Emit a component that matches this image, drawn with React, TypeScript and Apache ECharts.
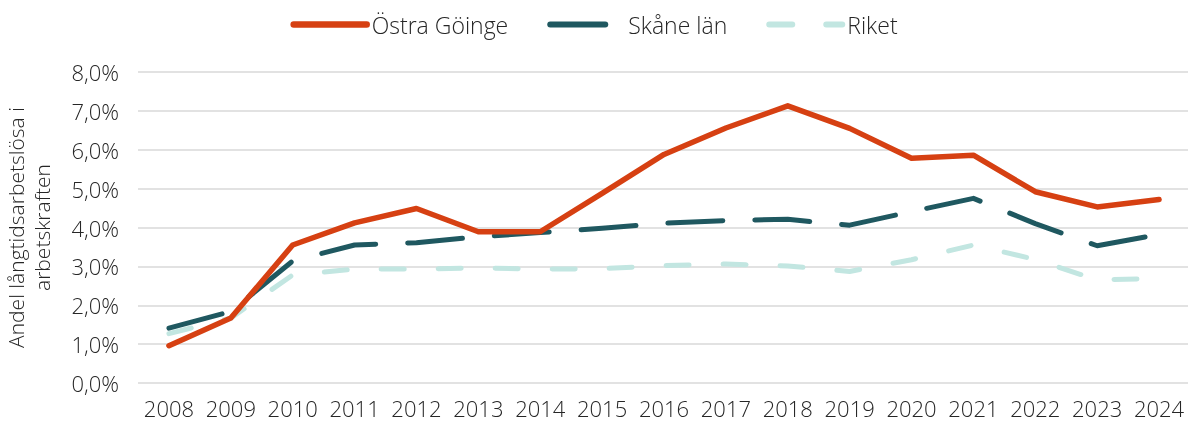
import React, { useEffect, useRef } from "react";
import * as echarts from "echarts";

const years = ["2008","2009","2010","2011","2012","2013","2014","2015","2016","2017","2018","2019","2020","2021","2022","2023","2024"];
const ostraGoinge = [0.96,1.67,3.55,4.12,4.49,3.89,3.89,4.88,5.88,6.56,7.13,6.55,5.78,5.86,4.92,4.53,4.72];
const skaneLan = [1.41,1.84,3.14,3.55,3.61,3.76,3.87,3.98,4.11,4.18,4.21,4.06,4.41,4.75,4.10,3.53,3.82];
const riket = [1.27,1.67,2.78,2.93,2.93,2.96,2.93,2.94,3.02,3.06,3.01,2.87,3.17,3.55,3.18,2.65,2.69];

const FONT = "'Open Sans'";
const TXT = "#262626";
const C_OG = "#D64012";
const C_SK = "#1F5860";
const C_RI = "#C2E6E1";
const DASH_SK = [55, 32];
const DASH_RI = [23, 34];

export default function App() {
  const ref = useRef<HTMLDivElement>(null);
  useEffect(() => {
    const chart = echarts.init(ref.current!, null, { renderer: "svg" });
    chart.setOption({
      animation: false,
      textStyle: { fontFamily: FONT, fontWeight: 300, color: TXT },
      legend: {
        top: 8,
        left: "center",
        itemWidth: 73,
        itemHeight: 14,
        itemGap: 39,
        itemStyle: { opacity: 0 },
        lineStyle: { width: 6, cap: "round" },
        textStyle: { fontSize: 23, fontFamily: FONT, fontWeight: 300, color: TXT },
        data: [
          { name: "Östra Göinge", lineStyle: { width: 6.5, color: C_OG, type: "solid", cap: "round" } },
          { name: "Skåne län", lineStyle: { width: 6, color: C_SK, type: DASH_SK, cap: "round" } },
          { name: "Riket", lineStyle: { width: 6, color: C_RI, type: DASH_RI, cap: "round" } },
        ],
      },
      grid: { left: 138, right: -2, top: 72, bottom: 40, containLabel: false, outerBoundsMode: "none" },
      xAxis: {
        type: "category",
        data: years,
        boundaryGap: true,
        axisLine: { show: false },
        axisTick: { show: false },
        axisLabel: { interval: 0, fontSize: 22, color: TXT, margin: 14, fontFamily: FONT, fontWeight: 300 },
      },
      yAxis: {
        type: "value",
        min: 0,
        max: 8,
        interval: 1,
        name: "Andel långtidsarbetslösa i\narbetskraften",
        nameLocation: "middle",
        nameRotate: 90,
        nameGap: 83,
        nameTextStyle: { fontSize: 21, color: TXT, fontFamily: FONT, fontWeight: 300, lineHeight: 26 },
        axisLabel: {
          fontSize: 22,
          color: TXT,
          margin: 19,
          fontFamily: FONT,
          fontWeight: 300,
          formatter: (v: number) => v.toFixed(1).replace(".", ",") + "%",
        },
        splitLine: { lineStyle: { color: "#d9d9d9", width: 1.5 } },
      },
      series: [
        {
          name: "Östra Göinge",
          type: "line",
          data: ostraGoinge,
          symbol: "none",
          z: 3,
          itemStyle: { color: C_OG },
          lineStyle: { color: C_OG, width: 5.5, cap: "round", join: "round" },
        },
        {
          name: "Skåne län",
          type: "line",
          data: skaneLan,
          symbol: "none",
          z: 2,
          itemStyle: { color: C_SK },
          lineStyle: { color: C_SK, width: 5, type: DASH_SK, cap: "round", join: "round" },
        },
        {
          name: "Riket",
          type: "line",
          data: riket,
          symbol: "none",
          z: 1,
          itemStyle: { color: C_RI },
          lineStyle: { color: C_RI, width: 5, type: DASH_RI, cap: "round", join: "round" },
        },
      ],
    });
    return () => chart.dispose();
  }, []);
  return <div ref={ref} style={{ position: "fixed", left: 0, top: 0, width: 1188, height: 423 }} />;
}
